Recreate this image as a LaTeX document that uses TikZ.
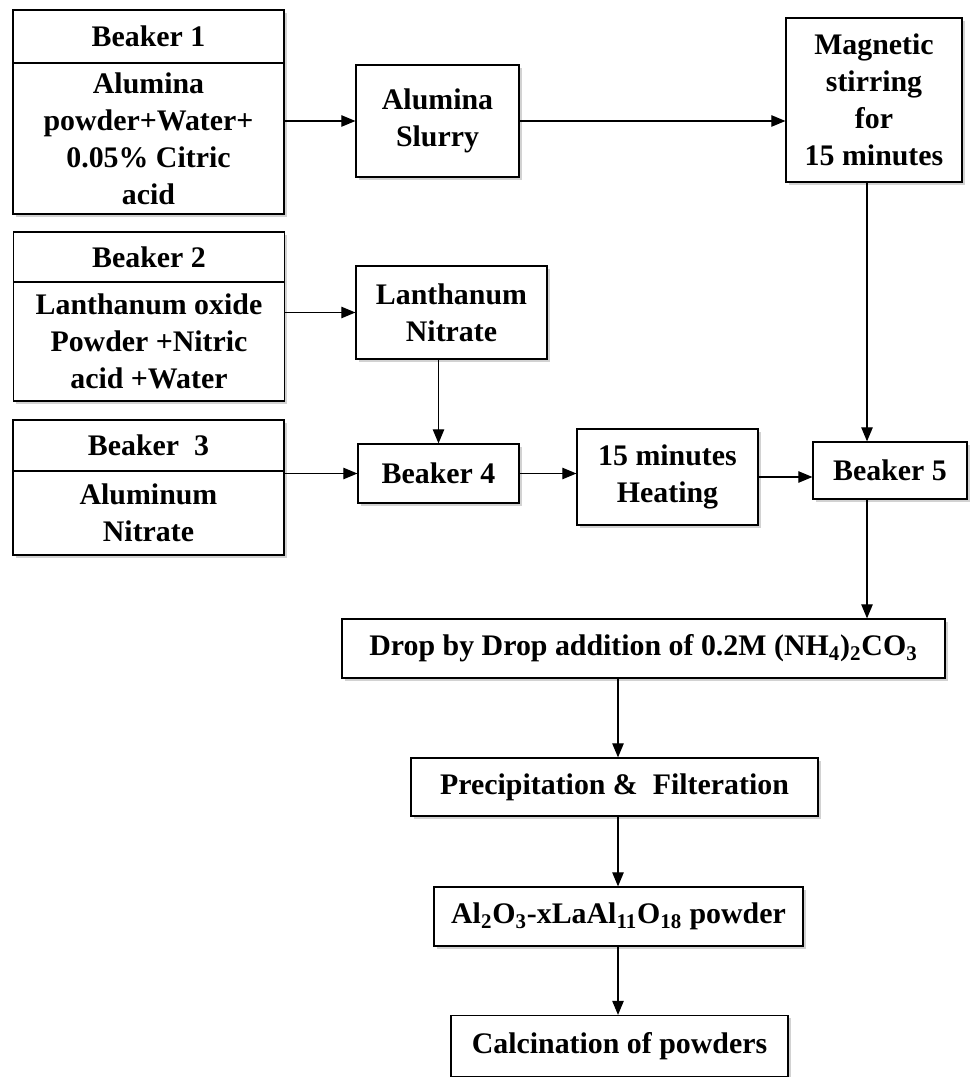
\documentclass[tikz,border=0pt]{standalone}
\usepackage{fontspec}
\setmainfont{Liberation Serif}
\usetikzlibrary{positioning, arrows.meta, shadows}

\begin{document}
\begin{tikzpicture}[
    x=0.02cm, y=-0.02cm,
    box/.style={draw, rectangle, line width=0.7pt, fill=white, align=center, inner sep=0pt,
        font=\fontsize{17}{21}\selectfont\bfseries,
        drop shadow={shadow xshift=1.6pt, shadow yshift=-1.6pt, fill=black!35}},
    beaker/.style={box, minimum width=5.42cm, outer sep=0pt},
    arrow/.style={-{Triangle[length=8pt, width=6.5pt]}, line width=0.7pt}
]
\useasboundingbox (0,0) rectangle (970,1077);

% three starting beakers (title + contents)
\node[beaker, minimum height=1.06cm] (beaker1) at (148.5,36.5) {Beaker 1};
\node[beaker, minimum height=3.02cm, below=0pt of beaker1] (beaker1body) {Alumina\\powder+Water+\\0.05\% Citric\\acid};

\node[beaker, minimum height=1.0cm] (beaker2) at (149,257) {Beaker 2};
\node[beaker, minimum height=2.38cm, below=0pt of beaker2] (beaker2body) {Lanthanum oxide\\Powder +Nitric\\acid +Water};

\node[beaker, minimum height=1.02cm] (beaker3) at (148.5,445.5) {Beaker\ \ 3};
\node[beaker, minimum height=1.68cm, below=0pt of beaker3] (beaker3body) {Aluminum\\Nitrate};

% process steps
\node[box, minimum width=3.26cm, minimum height=2.24cm] (slurry) at (437.5,121) {Alumina\\Slurry};
\node[box, minimum width=3.52cm, minimum height=3.28cm] (magnetic) at (874,100) {Magnetic\\stirring\\for\\15 minutes};
\node[box, minimum width=3.82cm, minimum height=1.86cm] (lanthanum) at (451.5,312.5) {Lanthanum\\Nitrate};
\node[box, minimum width=3.22cm, minimum height=1.18cm] (beaker4) at (438.5,473.5) {Beaker 4};
\node[box, minimum width=3.62cm, minimum height=1.92cm] (heating) at (667.5,477) {15 minutes\\Heating};
\node[box, minimum width=3.08cm, minimum height=1.14cm] (beaker5) at (890,470.5) {Beaker 5};

\node[box, minimum width=12.06cm, minimum height=1.18cm] (drop) at (643.5,648.5) {Drop by Drop addition of 0.2M (NH\textsubscript{4})\textsubscript{2}CO\textsubscript{3}};
\node[box, minimum width=8.14cm, minimum height=1.16cm] (precip) at (614.5,787) {Precipitation \&\ \ Filteration};
\node[box, minimum width=7.38cm, minimum height=1.18cm] (powder) at (618.5,916.5) {Al\textsubscript{2}O\textsubscript{3}-xLaAl\textsubscript{11}O\textsubscript{18} powder};
\node[box, minimum width=6.74cm, minimum height=1.22cm] (calcination) at (619.5,1046) {Calcination of powders};

\coordinate (trunk) at (867,0);
\coordinate (spine) at (618,0);

\draw[arrow] (beaker1body.east |- slurry) -- (slurry);
\draw[arrow] (slurry) -- (magnetic.west |- slurry);
\draw[arrow] (beaker2body.east |- lanthanum) -- (lanthanum);
\draw[arrow] (lanthanum.south -| beaker4) -- (beaker4);
\draw[arrow] (beaker3body.east |- beaker4) -- (beaker4);
\draw[arrow] (beaker4) -- (heating.west |- beaker4);
\draw[arrow] (heating) -- (beaker5.west |- heating);
\draw[arrow] (magnetic.south -| trunk) -- (beaker5.north -| trunk);
\draw[arrow] (beaker5.south -| trunk) -- (drop.north -| trunk);
\draw[arrow] (drop.south -| spine) -- (precip.north -| spine);
\draw[arrow] (precip.south -| spine) -- (powder.north -| spine);
\draw[arrow] (powder.south -| spine) -- (calcination.north -| spine);

\end{tikzpicture}
\end{document}
